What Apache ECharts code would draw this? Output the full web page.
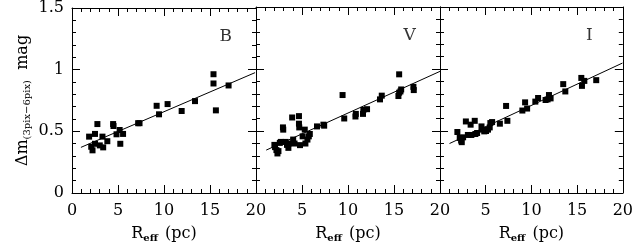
<!DOCTYPE html>
<html><head><meta charset="utf-8">
<script src="https://cdn.jsdelivr.net/npm/echarts@6/dist/echarts.min.js"></script>
<style>html,body{margin:0;padding:0;background:#fff}#c{width:636px;height:249px}</style>
</head><body><div id="c"></div>
<script>
const panelNames = ['B', 'V', 'I'];
const xTicks = [0, 5, 10, 15, 20];
const yTicks = [0, 0.5, 1, 1.5];
const pointsB = [[1.86,0.457],[2.09,0.375],[2.23,0.346],[2.50,0.479],[2.50,0.399],[2.76,0.559],[3.02,0.386],[3.31,0.457],[3.39,0.370],[3.84,0.420],[4.47,0.559],[4.51,0.543],[4.84,0.476],[5.18,0.511],[5.25,0.399],[5.55,0.479],[7.19,0.566],[7.34,0.566],[9.20,0.707],[9.46,0.638],[10.39,0.721],[11.92,0.665],[13.37,0.745],[15.38,0.963],[15.38,0.888],[15.64,0.670],[17.02,0.872]];
const pointsV = [[2.0,0.388],[2.07,0.370],[2.22,0.346],[2.33,0.319],[2.44,0.338],[2.59,0.404],[2.70,0.412],[2.93,0.529],[2.96,0.511],[3.22,0.412],[3.37,0.388],[3.52,0.364],[3.59,0.399],[3.93,0.609],[4.04,0.431],[4.19,0.399],[4.67,0.620],[4.67,0.559],[4.70,0.529],[4.78,0.386],[5.07,0.457],[5.30,0.511],[5.37,0.399],[5.59,0.431],[5.74,0.457],[5.85,0.476],[6.63,0.537],[7.33,0.551],[7.41,0.543],[9.41,0.790],[9.59,0.601],[10.81,0.617],[10.85,0.638],[11.63,0.638],[11.67,0.670],[12.07,0.676],[13.48,0.755],[13.67,0.785],[15.56,0.957],[15.48,0.782],[15.56,0.809],[15.70,0.819],[15.78,0.835],[17.11,0.856],[17.15,0.830]];
const pointsI = [[1.90,0.492],[2.16,0.444],[2.31,0.423],[2.38,0.410],[2.53,0.449],[2.83,0.577],[3.05,0.468],[3.35,0.551],[3.43,0.468],[3.80,0.582],[3.87,0.476],[4.06,0.484],[4.54,0.537],[4.62,0.511],[4.84,0.497],[5.03,0.500],[5.25,0.511],[5.44,0.529],[5.51,0.564],[5.70,0.572],[6.55,0.559],[7.23,0.702],[7.37,0.582],[9.01,0.665],[9.31,0.731],[9.53,0.681],[10.43,0.737],[10.73,0.766],[11.55,0.750],[11.77,0.755],[11.92,0.790],[12.10,0.763],[13.48,0.878],[13.71,0.819],[15.46,0.928],[15.53,0.864],[15.79,0.904],[17.09,0.910]];
const fitB = [[0.97,0.37],[19.9,0.976]];
const fitV = [[1.11,0.346],[20,0.981]];
const fitI = [[1.04,0.399],[19.96,1.048]];
const panelLabelPos = [[16.7,1.27],[16.7,1.27],[16.35,1.27]];

const allPoints = [pointsB, pointsV, pointsI];
const allFits = [fitB, fitV, fitI];
const FONT = 'DejaVu Serif';
const grids = [], xAxes = [], yAxes = [], series = [];
const W = 184;
for (let p = 0; p < 3; p++) {
  grids.push({left: 72 + W * p, width: W, top: 7, height: 186, show: false});
  const tickBase = {show: true, inside: true, length: 8, lineStyle: {color: '#000', width: 1}};
  const minorBase = {show: true, splitNumber: 5, length: 4, lineStyle: {color: '#000', width: 1}};
  xAxes.push({gridIndex: p, type: 'value', min: xTicks[0], max: xTicks[xTicks.length-1], interval: 5, position: 'bottom',
    axisLine: {show: true, onZero: false, lineStyle: {color: '#000', width: 1}},
    axisTick: tickBase, minorTick: minorBase, splitLine: {show: false},
    axisLabel: {show: true, showMinLabel: p === 0, margin: 10, fontFamily: FONT, fontSize: 16, color: '#000',
      formatter: v => (xTicks.indexOf(v) >= 0 ? String(v) : '')},
    name: '{a|R}{s|eff}{a| (pc)}', nameLocation: 'middle', nameGap: 32,
    nameTextStyle: {rich: {a: {fontFamily: FONT, fontSize: 16, color: '#000'}, s: {fontFamily: FONT, fontSize: 10, fontWeight: 'bold', color: '#000', padding: [8, 2, 0, 0]}}}
  });
  xAxes.push({gridIndex: p, type: 'value', min: xTicks[0], max: xTicks[xTicks.length-1], interval: 5, position: 'top',
    axisLine: {show: true, onZero: false, lineStyle: {color: '#000', width: 1}},
    axisTick: tickBase, minorTick: minorBase, splitLine: {show: false}, axisLabel: {show: false}});
  const yl = {gridIndex: p, type: 'value', min: yTicks[0], max: yTicks[yTicks.length-1], interval: 0.5, position: 'left',
    axisLine: {show: true, onZero: false, lineStyle: {color: '#000', width: 1}},
    axisTick: tickBase, minorTick: minorBase, splitLine: {show: false},
    axisLabel: {show: p === 0, margin: 8, fontFamily: FONT, fontSize: 16, color: '#000',
      formatter: v => (yTicks.indexOf(v) >= 0 ? String(v) : '')}};
  if (p === 0) {
    yl.name = '{a|Δm}{s|(3pix−6pix)}{a|  mag}';
    yl.nameLocation = 'middle';
    yl.nameGap = 40;
    yl.nameRotate = 90;
    yl.nameTextStyle = {rich: {a: {fontFamily: FONT, fontSize: 16, color: '#000'}, s: {fontFamily: FONT, fontSize: 10, color: '#000', padding: [8, 0, 0, 0]}}};
  }
  yAxes.push(yl);
  yAxes.push({gridIndex: p, type: 'value', min: yTicks[0], max: yTicks[yTicks.length-1], interval: 0.5, position: 'right',
    axisLine: {show: true, onZero: false, lineStyle: {color: '#000', width: 1}},
    axisTick: tickBase, minorTick: minorBase, splitLine: {show: false}, axisLabel: {show: false}});
  series.push({type: 'scatter', xAxisIndex: 2*p, yAxisIndex: 2*p, data: allPoints[p], symbol: 'rect', symbolSize: 6,
    itemStyle: {color: '#000', opacity: 1}, silent: true, animation: false});
  series.push({type: 'line', xAxisIndex: 2*p, yAxisIndex: 2*p, data: allFits[p], symbol: 'none',
    lineStyle: {color: '#000', width: 1}, silent: true, animation: false});
  series.push({type: 'scatter', xAxisIndex: 2*p, yAxisIndex: 2*p, data: [panelLabelPos[p]], symbolSize: 0,
    label: {show: true, position: 'inside', formatter: panelNames[p], fontFamily: FONT, fontSize: 17, color: '#000'},
    silent: true, animation: false});
}
const chart = echarts.init(document.getElementById('c'), null, {renderer: 'canvas'});
chart.setOption({animation: false, grid: grids, xAxis: xAxes, yAxis: yAxes, series: series});
</script></body></html>
